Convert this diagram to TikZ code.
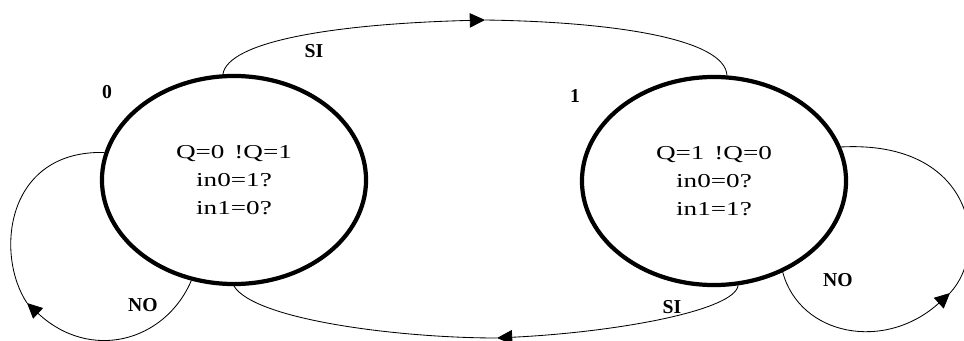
\documentclass[tikz,border=0pt]{standalone}
\usepackage{fontspec}
\setmainfont{Liberation Serif}
\newfontfamily\statefont[FakeStretch=1.38]{Liberation Serif}
\usetikzlibrary{arrows.meta, shapes.geometric, positioning}

\tikzset{
  state/.style={ellipse, draw, line width=3pt, minimum width=6.6cm,
                minimum height=5.2cm, inner sep=0pt, align=center,
                font=\statefont\fontsize{14}{20}\selectfont},
  lbl/.style={font=\bfseries\fontsize{14}{16}\selectfont, inner sep=0pt},
  link/.style={line width=0.6pt},
  tip/.style={-{Triangle[length=3.8mm,width=3.6mm]}}
}

\begin{document}
\begin{tikzpicture}[x=0.025cm, y=-0.025cm]
  \useasboundingbox (0,0) rectangle (964,341);
  % states
  \node[state] (state0) at (234,180) {Q=0\hspace{0.5em}!Q=1\\in0=1?\\in1=0?};
  \node[state] (state1) at (714,181) {Q=1\hspace{0.5em}!Q=0\\in0=0?\\in1=1?};
  \node[lbl] (name0) at (107,92) {0};
  \node[lbl] (name1) at (575,96) {1};
  % arrow heads sit in the middle of the curves
  \coordinate (topmid) at (485,20);
  \coordinate (botmid) at (497,338);
  \coordinate (loopL) at (27,303);
  \coordinate (loopR) at (950,293);
  % 0 -> 1
  \draw[link,tip] (state0.96) .. controls (228,42) and (330,24) .. (topmid);
  \draw[link] (topmid) .. controls (620,22) and (725,40) .. (state1.83);
  % 1 -> 0
  \draw[link,tip] (state1.283) .. controls (735,310) and (620,332) .. (botmid);
  \draw[link] (botmid) .. controls (400,338) and (255,320) .. (state0.270);
  % self loops
  \draw[link,tip] (state0.247) .. controls (165,342) and (90,362) .. (loopL);
  \draw[link] (loopL) .. controls (-5,255) and (5,150) .. (state0.168);
  \draw[link,tip] (state1.307) .. controls (800,336) and (885,352) .. (loopR);
  \draw[link] (loopR) .. controls (990,250) and (975,140) .. (state1.15);
  % labels
  \node[lbl] (siTop) at (314,51) {SI};
  \node[lbl] (siBot) at (672,307) {SI};
  \node[lbl] (noL) at (143,305) {NO};
  \node[lbl] (noR) at (838,280) {NO};
\end{tikzpicture}
\end{document}
